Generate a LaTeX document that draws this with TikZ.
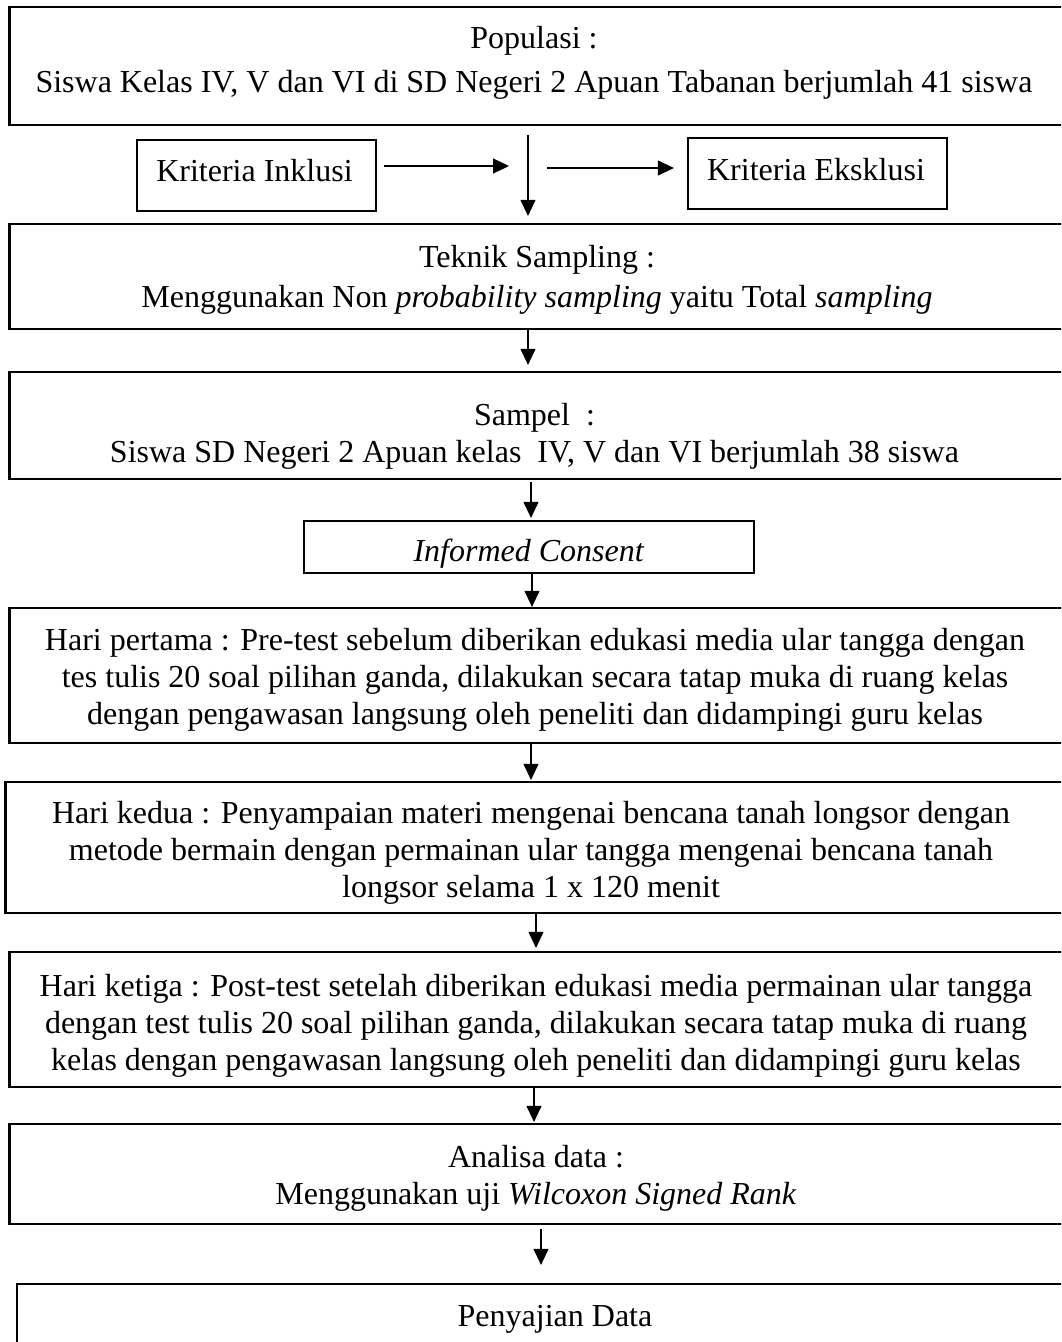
\documentclass[tikz,border=0pt]{standalone}
\usepackage{fontspec}
\setmainfont{Liberation Serif}
\usetikzlibrary{arrows.meta}
\begin{document}
\begin{tikzpicture}[x=1pt,y=-1pt,
  box/.style={draw=black, line width=2.2pt, rectangle, inner sep=0pt},
  txt/.style={align=center, inner sep=0pt, font=\fontsize{32}{37}\selectfont},
  arr/.style={-{Triangle[length=16pt,width=15pt]}, line width=1.1pt}]
\useasboundingbox (0,0) rectangle (1061,1342);
\clip (0,0) rectangle (1061,1342);
% boxes
\node[box, minimum width=1053.5pt, minimum height=118pt] (pop) at (536.25,66) {};
\node[box, minimum width=239pt, minimum height=71pt] (inkl) at (256.5,175.5) {};
\node[box, minimum width=259pt, minimum height=71pt] (eks) at (817.5,173.5) {};
\node[box, minimum width=1053.5pt, minimum height=105pt] (tek) at (536.25,276.5) {};
\node[box, minimum width=1053.5pt, minimum height=107pt] (sam) at (536.25,425.5) {};
\node[box, minimum width=450pt, minimum height=52pt] (inf) at (529,547) {};
\node[box, minimum width=1053.5pt, minimum height=135pt] (h1) at (536.25,675.5) {};
\node[box, minimum width=1057.6pt, minimum height=131pt] (h2) at (534.2,847.5) {};
\node[box, minimum width=1053.5pt, minimum height=135pt] (h3) at (536.25,1019.5) {};
\node[box, minimum width=1053.5pt, minimum height=100pt] (ana) at (536.25,1174) {};
\node[box, minimum width=1076pt, minimum height=66pt] (pen) at (555,1317) {};
% texts
\node[txt] (popt) at (534,62.5) {Populasi :\\[7pt]Siswa Kelas IV, V dan VI di SD Negeri 2 Apuan Tabanan berjumlah 41 siswa};
\node[txt] (inklt) at (254.5,171) {Kriteria Inklusi};
\node[txt] (ekst) at (816,170) {Kriteria Eksklusi};
\node[txt] (tekt) at (537,280) {Teknik Sampling :\\[3pt]Menggunakan Non \textit{probability sampling} yaitu Total \textit{sampling}};
\node[txt] (samt) at (534.5,436.5) {Sampel\ \ :\\Siswa SD Negeri 2 Apuan kelas\ \ IV, V dan VI berjumlah 38 siswa};
\node[txt] (inft) at (529,554) {\textit{Informed Consent}};
\node[txt] (h1t) at (535,679.5) {Hari pertama : Pre-test sebelum diberikan edukasi media ular tangga dengan\\tes tulis 20 soal pilihan ganda, dilakukan secara tatap muka di ruang kelas\\dengan pengawasan langsung oleh peneliti dan didampingi guru kelas};
\node[txt] (h2t) at (531,853) {Hari kedua : Penyampaian materi mengenai bencana tanah longsor dengan\\metode bermain dengan permainan ular tangga mengenai bencana tanah\\longsor selama 1 x 120 menit};
\node[txt] (h3t) at (536,1026) {Hari ketiga : Post-test setelah diberikan edukasi media permainan ular tangga\\dengan test tulis 20 soal pilihan ganda, dilakukan secara tatap muka di ruang\\kelas dengan pengawasan langsung oleh peneliti dan didampingi guru kelas};
\node[txt] (anat) at (536,1178) {Analisa data :\\Menggunakan uji \textit{Wilcoxon Signed Rank}};
\node[txt] (pent) at (555,1319) {Penyajian Data};
% connectors
\coordinate (v) at (528,135);
\coordinate (jL) at (509,166);
\coordinate (jR) at (547,168);
\draw[arr, shorten <=7pt] (inkl.east |- jL) -- (jL);
\draw[arr, shorten >=13pt] (jR) -- (eks.west |- jR);
\draw[arr, shorten >=7pt] (v) -- (v |- tek.north);
\draw[arr, shorten >=6pt] ([xshift=-8.25pt]tek.south) -- ([xshift=-8.25pt]sam.north);
\draw[arr, shorten <=2pt, shorten >=2pt] ([xshift=-5.25pt]sam.south) -- ([xshift=2pt]inf.north);
\draw[arr] ([xshift=3pt]inf.south) -- ([xshift=-4.25pt]h1.north);
\draw[arr, shorten >=1pt] ([xshift=-5.25pt]h1.south) -- ([xshift=-3.2pt]h2.north);
\draw[arr, shorten >=3pt] ([xshift=1.8pt]h2.south) -- ([xshift=-0.25pt]h3.north);
\draw[arr, shorten >=1pt] ([xshift=-2.25pt]h3.south) -- ([xshift=-2.25pt]ana.north);
\draw[arr, shorten <=4pt, shorten >=18pt] ([xshift=4.75pt]ana.south) -- ([xshift=-14pt]pen.north);
\end{tikzpicture}
\end{document}
